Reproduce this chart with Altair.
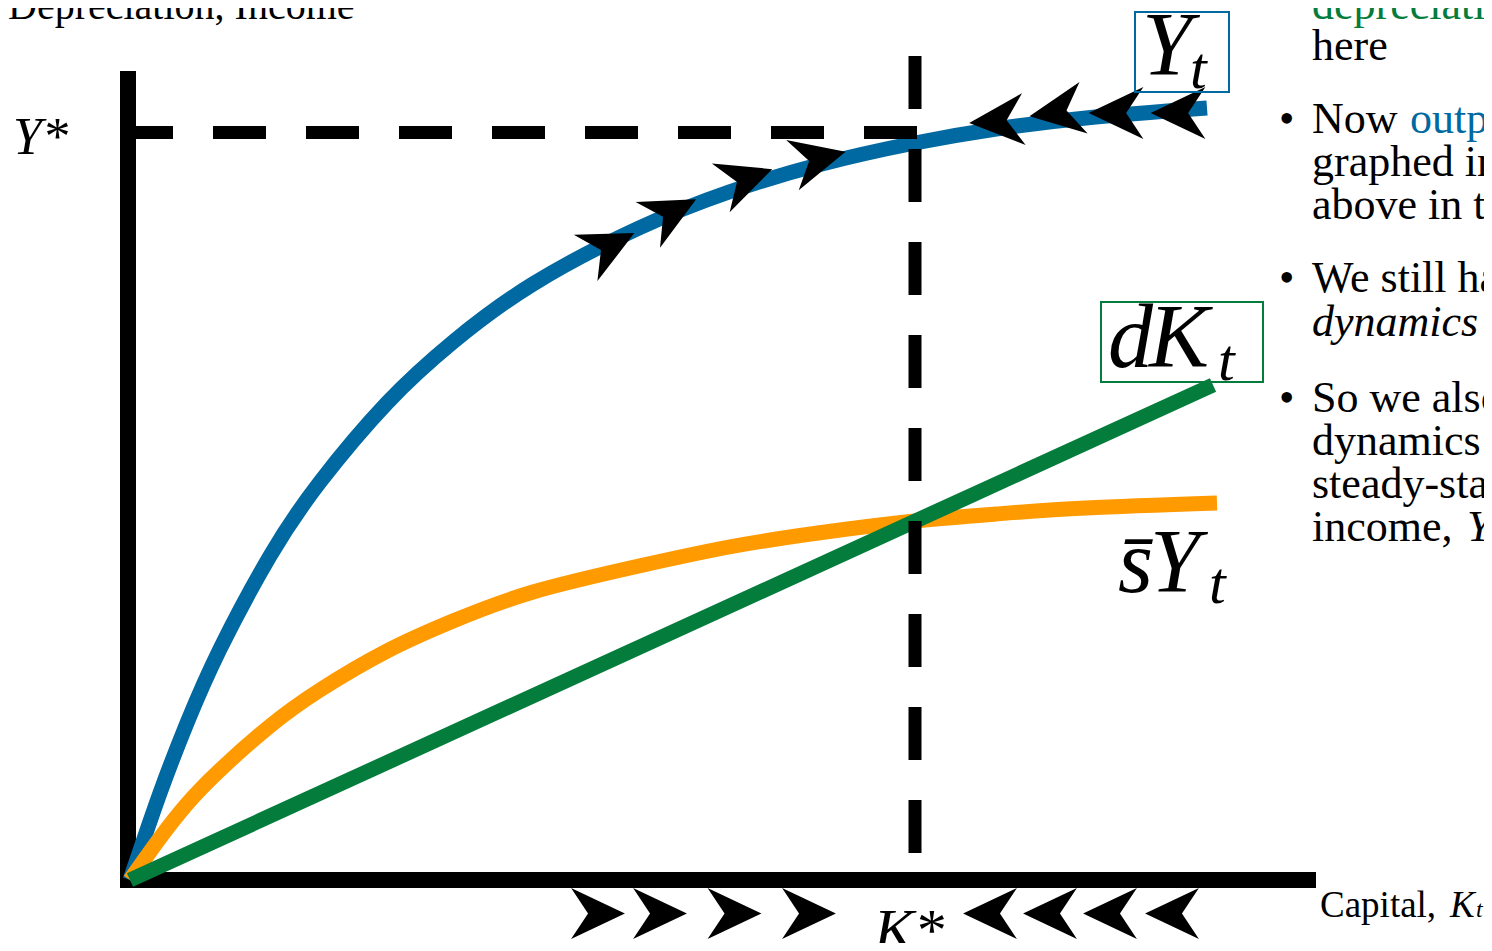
import altair as alt
import pandas as pd

# ---------------- data (diagram units: capital K on x, income/depreciation on y) ----------------
# Output curve Y_t
blue_k = [0, 0.30, 0.57, 0.90, 1.40, 1.90, 2.57, 3.23, 4.03, 5.09, 5.99, 6.88, 7.85, 8.66, 9.56, 10.77]
blue_y = [0, 0.87, 1.57, 2.31, 3.24, 3.98, 4.77, 5.38, 5.96, 6.52, 6.88, 7.15, 7.37, 7.51, 7.62, 7.72]
# Saving curve s-bar * Y_t
orange_k = [0, 0.30, 0.57, 0.90, 1.40, 1.90, 2.57, 3.23, 4.03, 5.09, 5.99, 6.88, 7.85, 8.66, 9.56, 10.87]
orange_y = [0, 0.42, 0.76, 1.10, 1.54, 1.90, 2.29, 2.59, 2.88, 3.14, 3.33, 3.47, 3.59, 3.66, 3.72, 3.77]
# Depreciation line d K_t
green_k = [0, 10.83]
green_y = [0, 4.95]

# steady state
K_STAR = 7.85
Y_STAR = 7.475

# axes extents
x_axis_k = [-0.10, 11.86]
y_axis_y = [-0.08, 8.09]

# arrowheads on the output curve
curve_arrow_k = [4.80, 5.42, 6.165, 6.89, 8.665, 9.265, 9.86, 10.48]
curve_arrow_y = [6.345, 6.68, 7.015, 7.215, 7.59, 7.68, 7.67, 7.67]
curve_arrow_angle = [333, 332, 340, 346, 176, 171, 180, 180]

# chevrons along the capital axis
axis_arrow_k = [4.68, 5.30, 6.045, 6.79, 8.60, 9.20, 9.80, 10.42]
axis_arrow_y = [-0.335] * 8
axis_arrow_angle = [0, 0, 0, 0, 180, 180, 180, 180]

# colours
BLUE = "#0069A1"
GREEN = "#047C3C"
ORANGE = "#FF9A00"
FONT = "Liberation Serif"

ARROW = "M 1 0 L -1 -0.95 L -0.37 0 L -1 0.95 Z"

xs = alt.Scale(domain=[-1.22, 13.54], nice=False, zero=False)
ys = alt.Scale(domain=[-0.63, 8.72], nice=False, zero=False)


def X(f="x"):
    return alt.X(f"{f}:Q", scale=xs, axis=None)


def Y(f="y"):
    return alt.Y(f"{f}:Q", scale=ys, axis=None)


def curve(ks, vals, color, interp="natural"):
    df = pd.DataFrame({"x": ks, "y": vals})
    return alt.Chart(df).mark_line(
        color=color, strokeWidth=15, interpolate=interp, strokeCap="butt"
    ).encode(x=X(), y=Y(), order="x:Q")


def text(rows, size, style="normal", color="black", weight="normal"):
    df = pd.DataFrame(rows, columns=["t", "x", "y"])
    return alt.Chart(df).mark_text(
        font=FONT, fontSize=size, fontStyle=style, color=color, fontWeight=weight,
        align="left", baseline="alphabetic"
    ).encode(x=X(), y=Y(), text="t:N")


def box(x0, x1, y0, y1, color):
    df = pd.DataFrame({"x": [x0], "x2": [x1], "y": [y0], "y2": [y1]})
    return alt.Chart(df).mark_rect(filled=False, stroke=color, strokeWidth=2).encode(
        x=X(), x2="x2:Q", y=Y(), y2="y2:Q"
    )


# axes
axes_df = pd.DataFrame({"x": [x_axis_k[0], -0.02], "x2": [x_axis_k[1], -0.02],
                        "y": [0, y_axis_y[1]], "y2": [0, y_axis_y[0]]})
axes = alt.Chart(axes_df).mark_rule(color="black", strokeWidth=16, strokeCap="butt").encode(
    x=X(), x2="x2:Q", y=Y(), y2="y2:Q")

# dashed steady-state guides
hdash = alt.Chart(pd.DataFrame({"x": [x_axis_k[0]], "x2": [K_STAR + 0.04], "y": [Y_STAR]})).mark_rule(
    color="black", strokeWidth=13, strokeDash=[53, 40], strokeCap="butt").encode(x=X(), x2="x2:Q", y=Y())
vdash = alt.Chart(pd.DataFrame({"x": [K_STAR], "y": [8.24], "y2": [0.24]})).mark_rule(
    color="black", strokeWidth=13, strokeDash=[53, 40], strokeCap="butt").encode(x=X(), y=Y(), y2="y2:Q")


def arrows(ks, vals, angles, size):
    df = pd.DataFrame({"x": ks, "y": vals, "a": angles})
    return alt.Chart(df).mark_point(shape=ARROW, filled=True, color="black", opacity=1,
                                    strokeWidth=0, size=size).encode(
        x=X(), y=Y(), angle=alt.Angle("a:Q", scale=None))


layers = [
    axes,
    curve(blue_k, blue_y, BLUE),
    curve(orange_k, orange_y, ORANGE),
    curve(green_k, green_y, GREEN, "linear"),
    hdash,
    vdash,
    arrows(curve_arrow_k, curve_arrow_y, curve_arrow_angle, 3000),
    arrows(axis_arrow_k, axis_arrow_y, axis_arrow_angle, 2900),
    # label boxes
    box(10.05, 10.99, 8.68, 7.88, BLUE),
    box(9.71, 11.33, 5.78, 4.98, GREEN),
    # curve labels
    text([["Y", 10.12, 8.05], ["d", 9.78, 5.13], ["K", 10.19, 5.13],
          ["s\u0304", 9.88, 2.88], ["Y", 10.20, 2.88]], 90, "italic"),
    text([["t", 10.60, 7.92], ["t", 10.88, 5.00], ["t", 10.79, 2.77]], 60, "italic"),
    # axis labels
    text([["Depreciation, Income", -1.22, 8.61]], 40),
    text([["Y*", -1.17, 7.26]], 52, "italic"),
    text([["K*", 7.44, -0.70]], 60, "italic"),
    text([["Capital,", 11.90, -0.37]], 37),
    text([["K", 13.20, -0.37]], 37, "italic"),
    text([["t", 13.46, -0.37]], 24, "italic"),
    # bullet text on the right
    text([["depreciation", 11.82, 8.61]], 44, color=GREEN),
    text([["here", 11.82, 8.20],
          ["Now", 11.82, 7.47],
          ["graphed in addition to", 11.82, 7.04],
          ["above in the figure", 11.82, 6.61],
          ["We still have capital", 11.82, 5.88],
          ["So we also have", 11.82, 4.68],
          ["dynamics toward the", 11.82, 4.25],
          ["steady-state level of", 11.82, 3.82],
          ["income,", 11.82, 3.39]], 44),
    text([["output", 12.80, 7.47]], 44, color=BLUE),
    text([["dynamics", 11.82, 5.44], ["Y*", 13.37, 3.39]], 44, "italic"),
    text([["\u2022", 11.49, 7.47], ["\u2022", 11.49, 5.88], ["\u2022", 11.49, 4.68]], 44),
]

chart = alt.layer(*layers).properties(
    width=1476, height=935, padding=0, autosize="none"
).configure_view(strokeWidth=0)

chart.save("out.html", embed_options={"renderer": "svg", "actions": False})
